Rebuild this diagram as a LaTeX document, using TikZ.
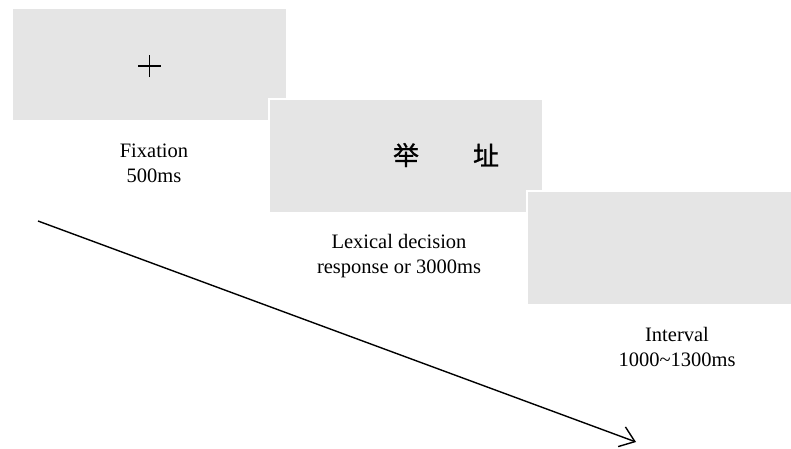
\documentclass[tikz,border=0pt]{standalone}
\usepackage{fontspec}
\setmainfont{Liberation Serif}
\newfontfamily\cjk[FakeBold=0.8]{Noto Sans CJK SC}
\usetikzlibrary{arrows.meta}
\definecolor{panelgray}{HTML}{E5E5E5}
\begin{document}
\begin{tikzpicture}[x=1pt,y=-1pt,
  panel/.style={fill=panelgray,draw=white,line width=2pt},
  caption/.style={align=center,inner sep=0pt,font=\fontsize{20.5}{25}\selectfont},
  hanzi/.style={inner sep=0pt,font=\cjk\fontsize{26}{26}\selectfont}]
\useasboundingbox (0,0) rectangle (791,448);
% panels
\path[panel] (12,8) rectangle (287,121);
\coordinate (c1) at (149.5,66);
\path[panel] (269,99) rectangle (543,213);
\path[panel] (527,191) rectangle (792,305);
% fixation cross
\draw[line width=1.4pt] ([xshift=-11.5pt]c1) -- ([xshift=11.5pt]c1);
\draw[line width=1.4pt] ([yshift=-11pt]c1) -- ([yshift=11pt]c1);
% words
\node[hanzi] (w1) at (406,155) {举};
\node[hanzi] (w2) at (486,155) {址};
% captions
\node[caption] (t1) at (154,163) {Fixation\\500ms};
\node[caption] (t2) at (399,256) {Lexical decision\\response or 3000ms};
\node[caption] (t3) at (677,347) {Interval\\1000\textasciitilde1300ms};
% time arrow
\coordinate (a0) at (38,221);
\coordinate (a1) at (636,442);
\draw[line width=1.4pt,-{Straight Barb[length=14pt,width=21pt,line width=1.4pt]}] (a0) -- (a1);
\end{tikzpicture}
\end{document}
